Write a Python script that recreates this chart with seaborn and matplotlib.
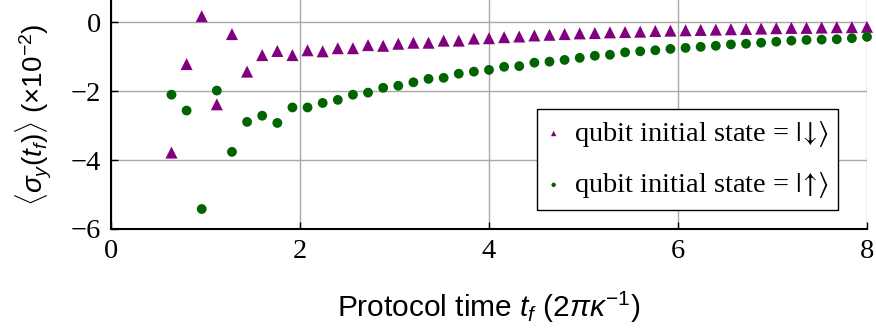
import matplotlib
matplotlib.use("Agg")
import matplotlib.pyplot as plt
import numpy as np
import pandas as pd
import seaborn as sns

times = [0.64, 0.80, 0.96, 1.12, 1.28, 1.44, 1.60, 1.76, 1.92, 2.08,
         2.24, 2.40, 2.56, 2.72, 2.88, 3.04, 3.20, 3.36, 3.52, 3.68,
         3.84, 4.00, 4.16, 4.32, 4.48, 4.64, 4.80, 4.96, 5.12, 5.28,
         5.44, 5.60, 5.76, 5.92, 6.08, 6.24, 6.40, 6.56, 6.72, 6.88,
         7.04, 7.20, 7.36, 7.52, 7.68, 7.84, 8.00]

sigma_y_down = [-3.78, -1.21, 0.18, -2.38, -0.34, -1.43, -0.95, -0.83, -0.95, -0.81,
                -0.84, -0.75, -0.75, -0.66, -0.68, -0.62, -0.59, -0.59, -0.53, -0.53,
                -0.47, -0.46, -0.43, -0.41, -0.38, -0.36, -0.34, -0.32, -0.31, -0.29,
                -0.28, -0.27, -0.25, -0.24, -0.23, -0.22, -0.21, -0.20, -0.19, -0.18,
                -0.17, -0.16, -0.16, -0.15, -0.14, -0.14, -0.13]

sigma_y_up = [-2.10, -2.56, -5.42, -1.98, -3.76, -2.89, -2.71, -2.92, -2.47, -2.47,
              -2.34, -2.25, -2.10, -2.04, -1.90, -1.84, -1.74, -1.64, -1.61, -1.49,
              -1.43, -1.38, -1.29, -1.27, -1.17, -1.14, -1.09, -1.03, -0.97, -0.94,
              -0.87, -0.84, -0.81, -0.77, -0.74, -0.71, -0.68, -0.64, -0.62, -0.59,
              -0.56, -0.53, -0.51, -0.50, -0.49, -0.46, -0.42]

label_down = r"qubit initial state = $|\!\downarrow\!\rangle$"
label_up = r"qubit initial state = $|\!\uparrow\!\rangle$"
x_ticks = [0, 2, 4, 6, 8]
y_ticks = [0, -2, -4, -6]

sns.set_theme(style="white")
plt.rcParams["font.family"] = ["Liberation Serif", "DejaVu Serif"]
plt.rcParams["axes.unicode_minus"] = True
plt.rcParams["text.color"] = "black"
plt.rcParams["axes.labelcolor"] = "black"
plt.rcParams["mathtext.rm"] = "Liberation Sans"
plt.rcParams["mathtext.it"] = "Liberation Sans:italic"
plt.rcParams["mathtext.bf"] = "Liberation Sans:bold"
plt.rcParams["mathtext.sf"] = "Liberation Sans"

df = pd.DataFrame({
    "t": times + times,
    "sy": sigma_y_down + sigma_y_up,
    "state": [label_down] * len(times) + [label_up] * len(times),
})

fig = plt.figure(figsize=(8.76, 3.29), dpi=100)
ax = fig.add_axes([111 / 876, 1 - 229 / 329, 756 / 876, 229 / 329])

sns.scatterplot(data=df[df.state == label_down], x="t", y="sy", marker="^",
                color="#800080", s=75, edgecolor="none", ax=ax, label=label_down,
                zorder=3, clip_on=False)
sns.scatterplot(data=df[df.state == label_up], x="t", y="sy", marker="o",
                color="#006400", s=50, edgecolor="none", ax=ax, label=label_up,
                zorder=3, clip_on=False)

ax.set_xlim(0, 8)
ax.set_ylim(-6, 0.65)
ax.set_xticks(x_ticks)
ax.set_yticks(y_ticks)
ax.set_xticklabels([str(v) for v in x_ticks])
ax.set_yticklabels([str(v).replace("-", "\u2212") for v in y_ticks])
ax.grid(True, color="#a8a8a8", linewidth=1.0)
ax.set_axisbelow(True)
for s in ["top", "right"]:
    ax.spines[s].set_visible(False)
for s in ["left", "bottom"]:
    ax.spines[s].set_color("black")
    ax.spines[s].set_linewidth(1.5)
ax.tick_params(axis="both", direction="in", length=5, width=1, colors="black",
               labelsize=20.5, pad=7, left=True, bottom=True)

ax.set_xlabel(r"Protocol time $t_f$ (2$\pi\kappa^{\mathrm{-1}}$)", family="Liberation Sans",
              fontsize=21.5, math_fontfamily="custom", labelpad=19, color="black")
ax.set_ylabel(r"$\langle\sigma_y(t_f)\rangle$ ($\times10^{-2}$)", family="Liberation Sans",
              fontsize=20, math_fontfamily="custom", labelpad=12, color="black")

leg = ax.legend(loc="upper right", bbox_to_anchor=(0.962, 0.524), fontsize=20.5,
                frameon=True, fancybox=False, edgecolor="black", framealpha=1,
                markerscale=0.45, handlelength=0.5, handletextpad=0.45,
                labelspacing=0.75, borderpad=0.35, borderaxespad=0)
leg.get_frame().set_linewidth(1.0)
for txt in leg.get_texts():
    txt.set_math_fontfamily("stix")
    txt.set_color("black")

fig.savefig("out.png", dpi=100)
